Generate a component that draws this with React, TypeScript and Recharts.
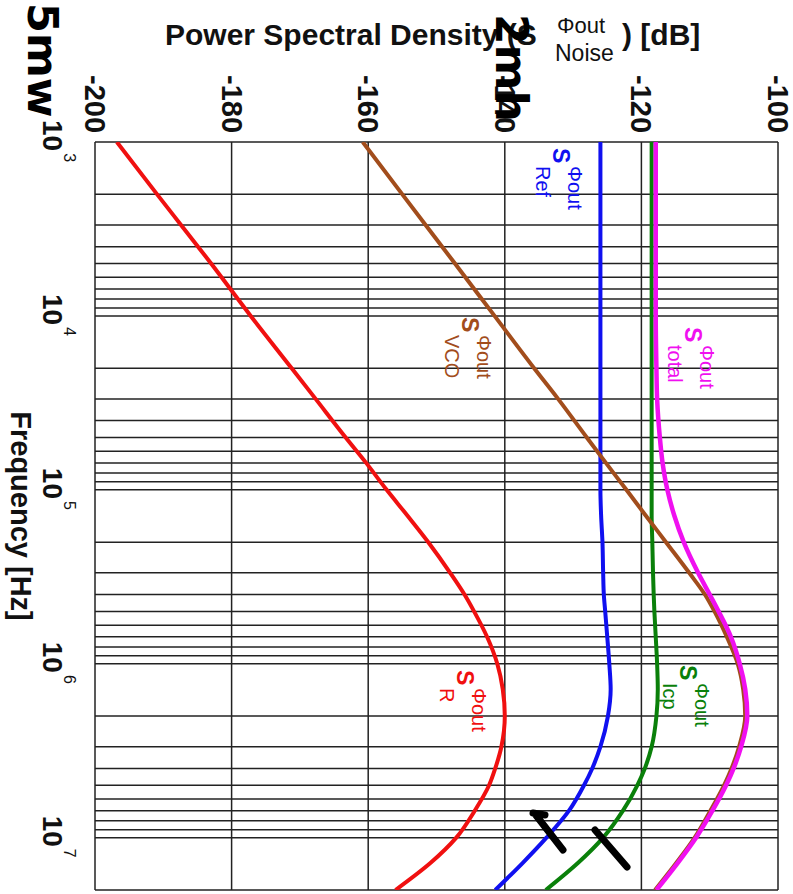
import React from 'react';
import { LineChart, Line, XAxis, YAxis, CartesianGrid } from 'recharts';

// frequency points [Hz]
const freq = [1e3, 2e3, 5e3, 1e4, 2e4, 3e4, 5e4, 7e4, 1e5, 1.4e5, 2e5, 3e5, 4e5, 5e5, 7e5, 1e6, 1.4e6, 2e6, 3e6, 4e6, 5e6, 7e6, 1e7, 1.4e7, 2e7];

// noise contributions at the output [dB]
const sRef = [-126, -126, -126, -126, -126, -126, -126, -126, -126, -125.9, -125.7, -125.6, -125.5, -125.3, -125.0, -124.7, -124.5, -124.9, -126.0, -127.2, -128.4, -130.6, -133.9, -137.4, -141.4];
const sIcp = [-118.5, -118.5, -118.5, -118.5, -118.5, -118.5, -118.5, -118.5, -118.5, -118.5, -118.4, -118.3, -118.2, -118.1, -117.9, -117.7, -117.6, -117.8, -118.5, -119.5, -120.6, -122.7, -125.6, -129.3, -134.0];
const sVco = [-160.8, -155.0, -147.3, -141.5, -135.7, -132.2, -128.0, -125.2, -122.2, -119.4, -116.4, -113.0, -110.7, -109.3, -107.5, -105.9, -105.1, -104.8, -105.7, -106.8, -107.9, -109.9, -112.2, -114.9, -118.0];
const sTotal = [-117.9, -117.9, -117.9, -117.9, -117.8, -117.7, -117.3, -116.9, -116.2, -115.2, -113.8, -111.7, -110.0, -108.7, -106.9, -105.6, -104.8, -104.5, -105.4, -106.5, -107.6, -109.6, -112.0, -114.7, -117.8];
const sR = [-196.8, -190.9, -183.0, -177.2, -171.2, -167.7, -163.3, -160.3, -157.3, -154.3, -151.2, -148.0, -145.9, -144.5, -142.6, -141.1, -140.3, -140.0, -140.5, -141.4, -142.3, -144.4, -147.1, -150.9, -156.0];

const psdTicks = [-200, -180, -160, -140, -120, -100];
const decades = [1e3, 1e4, 1e5, 1e6];
const mantissas = [1, 2, 3, 4, 5, 6, 7, 8, 9];
const freqTicks = [...decades.flatMap((d) => mantissas.map((m) => m * d)), 1e7, 2e7];
const decadeExp: Record<number, string> = { 1000: '3', 10000: '4', 100000: '5', 1000000: '6', 10000000: '7' };

const data = freq.map((f, i) => ({
  f,
  ref: sRef[i],
  icp: sIcp[i],
  vco: sVco[i],
  total: sTotal[i],
  r: sR[i],
}));

const FONT = '"Liberation Sans", Arial, sans-serif';
const HAND = '"DejaVu Sans", sans-serif';

const PsdTick = (props: any) => {
  const { x, payload } = props;
  return (
    <text transform={`translate(${x - 10}, 104) rotate(90)`} textAnchor="middle" fontSize={29} fontWeight="bold" fill="#111" fontFamily={FONT}>
      {payload.value}
    </text>
  );
};

const FreqTick = (props: any) => {
  const { y, payload } = props;
  const exp = decadeExp[payload.value];
  if (!exp) return <g />;
  return (
    <text transform={`translate(43, ${y - 22}) rotate(90)`} fontSize={28} fontWeight="bold" fill="#111" fontFamily={FONT}>
      10
      <tspan dx={2} dy={-21} fontSize={16} fontWeight="normal">{exp}</tspan>
    </text>
  );
};

function CurveLabel({ x, y, sub, color }: any) {
  return (
    <text transform={`translate(${x}, ${y}) rotate(90)`} fill={color} fontFamily={FONT}>
      <tspan x={0} y={0} fontSize={23} fontWeight="bold">S</tspan>
      <tspan x={18} y={-15} fontSize={20}>Φout</tspan>
      <tspan x={18} y={17} fontSize={20}>{sub}</tspan>
    </text>
  );
}

export default function App() {
  return (
    <div style={{ position: 'absolute', left: 0, top: 0, width: 793, height: 894, background: '#fff' }}>
      <LineChart width={793} height={894} data={data} layout="vertical" margin={{ top: 0, right: 15, bottom: 4, left: 0 }}>
        <CartesianGrid stroke="#222" strokeWidth={1.5} />
        <XAxis
          type="number"
          orientation="top"
          domain={[-200, -100]}
          ticks={psdTicks}
          interval={0}
          height={142}
          axisLine={false}
          tickLine={false}
          tick={<PsdTick />}
          allowDataOverflow
        />
        <YAxis
          type="number"
          dataKey="f"
          scale="log"
          domain={[1000, 2e7]}
          ticks={freqTicks}
          interval={0}
          width={95}
          axisLine={false}
          tickLine={false}
          tick={<FreqTick />}
          allowDataOverflow
        />
        <Line dataKey="ref" stroke="#1010f0" strokeWidth={4} dot={false} type="monotone" isAnimationActive={false} />
        <Line dataKey="icp" stroke="#0a800a" strokeWidth={4} dot={false} type="monotone" isAnimationActive={false} />
        <Line dataKey="vco" stroke="#a24d1c" strokeWidth={4} dot={false} type="monotone" isAnimationActive={false} />
        <Line dataKey="total" stroke="#f010f0" strokeWidth={4.5} dot={false} type="monotone" isAnimationActive={false} />
        <Line dataKey="r" stroke="#f01010" strokeWidth={4} dot={false} type="monotone" isAnimationActive={false} />
      </LineChart>
      <svg width={793} height={894} style={{ position: 'absolute', left: 0, top: 0, pointerEvents: 'none' }}>
        <text x={165} y={45} fontSize={30} fontWeight="bold" fill="#111" fontFamily={FONT}>
          Power Spectral Density (S
        </text>
        <text x={557} y={33} fontSize={22} fill="#111" fontFamily={FONT}>Φout</text>
        <text x={555} y={61} fontSize={23} fill="#111" fontFamily={FONT}>Noise</text>
        <text x={622} y={45} fontSize={30} fontWeight="bold" fill="#111" fontFamily={FONT}>) [dB]</text>
        <text transform="translate(11, 516) rotate(90)" textAnchor="middle" fontSize={29} fontWeight="bold" fill="#111" fontFamily={FONT}>
          Frequency [Hz]
        </text>
        <CurveLabel x={553} y={148} sub="Ref" color="#1010f0" />
        <CurveLabel x={685} y={327} sub="total" color="#f010f0" />
        <CurveLabel x={462} y={317} sub="VCO" color="#a24d1c" />
        <CurveLabel x={457} y={670} sub="R" color="#f01010" />
        <CurveLabel x={680} y={665} sub="Icp" color="#0a800a" />
        {/* handwritten marks on the scan */}
        <text transform="translate(28, 3) rotate(90)" fontSize={43} fontWeight="bold" fill="#000" fontFamily={HAND}>5mw</text>
        <text transform="translate(496, 14) rotate(90)" fontSize={44} fontWeight="bold" fill="#000" fontFamily={HAND}>2mh</text>
        <g stroke="#000" strokeWidth={7} strokeLinecap="round" fill="none">
          <path d="M533 813 L545 815 M535 814 L563 850" />
          <path d="M595 830 L627 867" />
        </g>
      </svg>
    </div>
  );
}
